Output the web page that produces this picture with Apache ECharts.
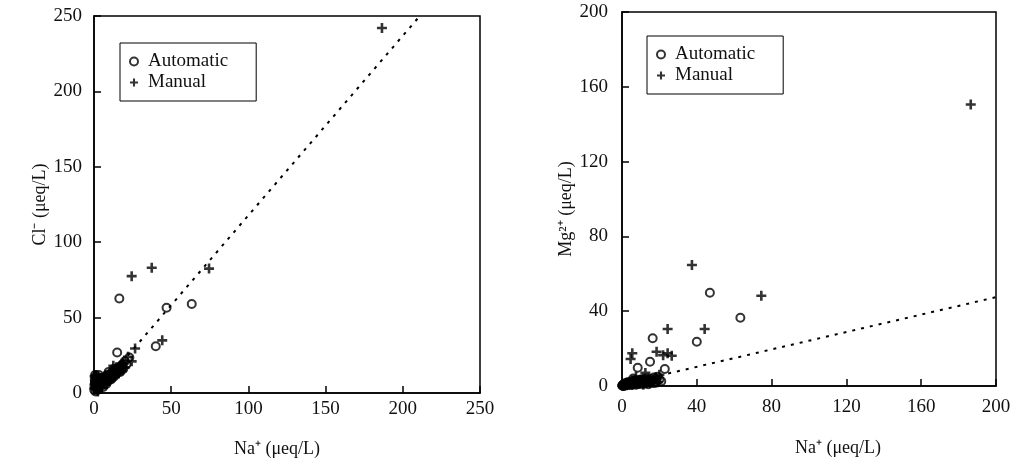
<!DOCTYPE html>
<html>
<head>
<meta charset="utf-8">
<script src="https://cdn.jsdelivr.net/npm/echarts@6/dist/echarts.min.js"></script>
<style>
  html, body { margin: 0; padding: 0; background: #fff; }
  #chart { width: 1020px; height: 469px; }
</style>
</head>
<body>
<div id="chart"></div>
<script>
// samples: Na+, Cl-, Mg2+ (ueq/L)
var naAuto = [16.4, 47, 63.3, 40, 15, 22.9, 8.4, 0.5, 1, 1.5, 2, 2.5, 3, 3.5, 4, 5, 6, 7, 9, 10, 11, 12, 13, 14, 16, 17, 18, 19, 20, 21, 1, 2, 3, 6, 8, 11, 13,
  0.3, 0.8, 1.2, 1.8, 2.2, 4.5, 5.5, 6.5, 7.5, 9.5, 10.5, 12.5, 14.5, 15.5, 17.5, 18.5, 0.2, 0.6];
var clAuto = [62.7, 56.5, 59, 31, 26.9, 23.5, 9, 9, 4, 11, 2, 6, 3, 8, 5, 7, 4, 9, 8, 12, 9, 14, 11, 15, 17, 14, 18, 16, 21, 19, 1, 10, 12, 8, 6, 13, 16,
  5, 12, 7, 9, 4, 8, 10, 6, 11, 14, 10, 12, 13, 16, 16, 19, 2, 7];
var mgAuto = [25.5, 49.9, 36.5, 23.7, 13, 9.1, 9.8, 0.5, 1, 0.3, 1.5, 0.8, 2, 1, 0.5, 2.5, 1.2, 3, 2, 3.5, 1.5, 4, 2.5, 1, 3, 4.5, 2, 5, 3.5, 2.5, 0.2, 0.7, 1.8, 4, 1, 2, 3,
  0.3, 0.6, 0.9, 0.4, 1.2, 2, 1.5, 2.8, 0.7, 1.8, 3.2, 1.3, 2.2, 3.8, 1.6, 3, 0.1, 0.5];

var naMan = [186.5, 24.4, 37.4, 74.5, 44.2, 26.6, 24.4, 5.5, 4.6, 18.5, 22, 0.5, 1, 1.5, 2, 3, 4, 5, 6, 7, 8, 9, 10, 11, 12, 13, 14, 15, 16, 17, 18, 19, 20, 2.5, 7.5, 12.5,
  0.2, 0.7, 1.2, 3.5, 4.5, 5.5, 6.5, 8.5, 9.5, 10.5, 11.5, 13.5, 14.5, 16.5, 0.4, 2.2];
var clMan = [242, 77.5, 83.1, 82.5, 34.9, 29.5, 21, 10, 7, 19, 24, 6, 12, 3, 8, 5, 10, 3, 8, 6, 11, 9, 8, 13, 10, 15, 12, 16, 13, 18, 15, 20, 17, 1, 12, 18,
  3, 8, 10, 7, 6, 9, 11, 7, 12, 10, 14, 11, 17, 15, 11, 5];
var mgMan = [150.5, 30.5, 64.7, 48.3, 30.5, 16.2, 17.5, 17.5, 14.4, 18.3, 16.5, 0.5, 0.3, 1, 0.6, 1.5, 0.8, 2, 1, 2.5, 1.5, 3, 2, 1, 3.5, 2, 4, 1.5, 3, 2.5, 4.5, 2, 6, 0.4, 5, 7,
  0.2, 1.2, 0.4, 0.9, 2.2, 0.6, 1.8, 2.6, 1.1, 3, 0.8, 2.4, 3.3, 1.7, 0.6, 1.3];

// regression lines (end points)
var fitClX = [3, 211];
var fitClY = [2.3, 250];
var fitMgX = [20, 200];
var fitMgY = [5.6, 47.5];

function pairs(xs, ys) {
  return xs.map(function (x, i) { return [x, ys[i]]; });
}

var font = "'Liberation Serif', 'Times New Roman', serif";
var plus = 'path://M3.7,0h2.6v3.7h3.7v2.6h-3.7v3.7h-2.6v-3.7h-3.7v-2.6h3.7z';

function axis(gi, min, max, step, pos, nameTxt, nameGap, labelMargin, namePad) {
  return {
    type: 'value', gridIndex: gi, min: min, max: max, interval: step,
    position: pos,
    name: nameTxt, nameLocation: 'middle', nameGap: nameGap,
    nameTextStyle: { fontFamily: font, fontSize: 18, color: '#111', padding: namePad || 0 },
    axisLine: { show: true, lineStyle: { color: '#000', width: 1.5 } },
    axisTick: { show: true, inside: true, length: 7, lineStyle: { color: '#000', width: 1.5 } },
    axisLabel: { fontFamily: font, fontSize: 19, color: '#111', margin: labelMargin },
    splitLine: { show: false }
  };
}

function legend(left, top) {
  return {
    orient: 'vertical', left: left, top: top,
    data: [{ name: 'Automatic', icon: 'circle' }, { name: 'Manual', icon: plus }],
    itemWidth: 8, itemHeight: 8, itemGap: 2,
    padding: [9, 28, 9, 9],
    borderColor: '#000', borderWidth: 1,
    selectedMode: false,
    textStyle: { fontFamily: font, fontSize: 19, color: '#111', padding: [0, 0, 0, 5] }
  };
}

// open circles with a see-through middle so dense clusters build up
var circleStyle = { color: 'rgba(255,255,255,0)', borderColor: '#000', borderWidth: 2 };
var dotted = { color: '#000', width: 2, type: [3, 6] };

var chart = echarts.init(document.getElementById('chart'));
chart.setOption({
  animation: false,
  backgroundColor: '#fff',
  grid: [
    { left: 94, top: 16, width: 386, height: 377, show: true, borderColor: '#000', borderWidth: 1.5 },
    { left: 622, top: 12, width: 374, height: 374, show: true, borderColor: '#000', borderWidth: 1.5 }
  ],
  legend: [legend(120, 43), legend(647, 36)],
  xAxis: [
    axis(0, 0, 250, 50, 'bottom', 'Na\u207A (\u03BCeq/L)', 47, 7, [0, 20, 0, 0]),
    axis(1, 0, 200, 40, 'bottom', 'Na\u207A (\u03BCeq/L)', 53, 12, [0, 0, 0, 58])
  ],
  yAxis: [
    axis(0, 0, 250, 50, 'left', 'Cl\u207B (\u03BCeq/L)', 42, 12),
    axis(1, 0, 200, 40, 'left', 'Mg\u00B2\u207A (\u03BCeq/L)', 45, 14, [0, 20, 0, 0])
  ],
  series: [
    { name: 'Manual', type: 'scatter', xAxisIndex: 0, yAxisIndex: 0, symbol: plus, symbolSize: 10,
      itemStyle: { color: '#000' }, data: pairs(naMan, clMan) },
    { name: 'Automatic', type: 'scatter', xAxisIndex: 0, yAxisIndex: 0, symbol: 'circle', symbolSize: 8,
      itemStyle: circleStyle, data: pairs(naAuto, clAuto) },
    { name: 'fitCl', type: 'line', xAxisIndex: 0, yAxisIndex: 0, symbol: 'none', lineStyle: dotted,
      data: pairs(fitClX, fitClY) },
    { name: 'Manual', type: 'scatter', xAxisIndex: 1, yAxisIndex: 1, symbol: plus, symbolSize: 10,
      itemStyle: { color: '#000' }, data: pairs(naMan, mgMan) },
    { name: 'Automatic', type: 'scatter', xAxisIndex: 1, yAxisIndex: 1, symbol: 'circle', symbolSize: 8,
      itemStyle: circleStyle, data: pairs(naAuto, mgAuto) },
    { name: 'fitMg', type: 'line', xAxisIndex: 1, yAxisIndex: 1, symbol: 'none', lineStyle: dotted,
      data: pairs(fitMgX, fitMgY) }
  ]
});
</script>
</body>
</html>
